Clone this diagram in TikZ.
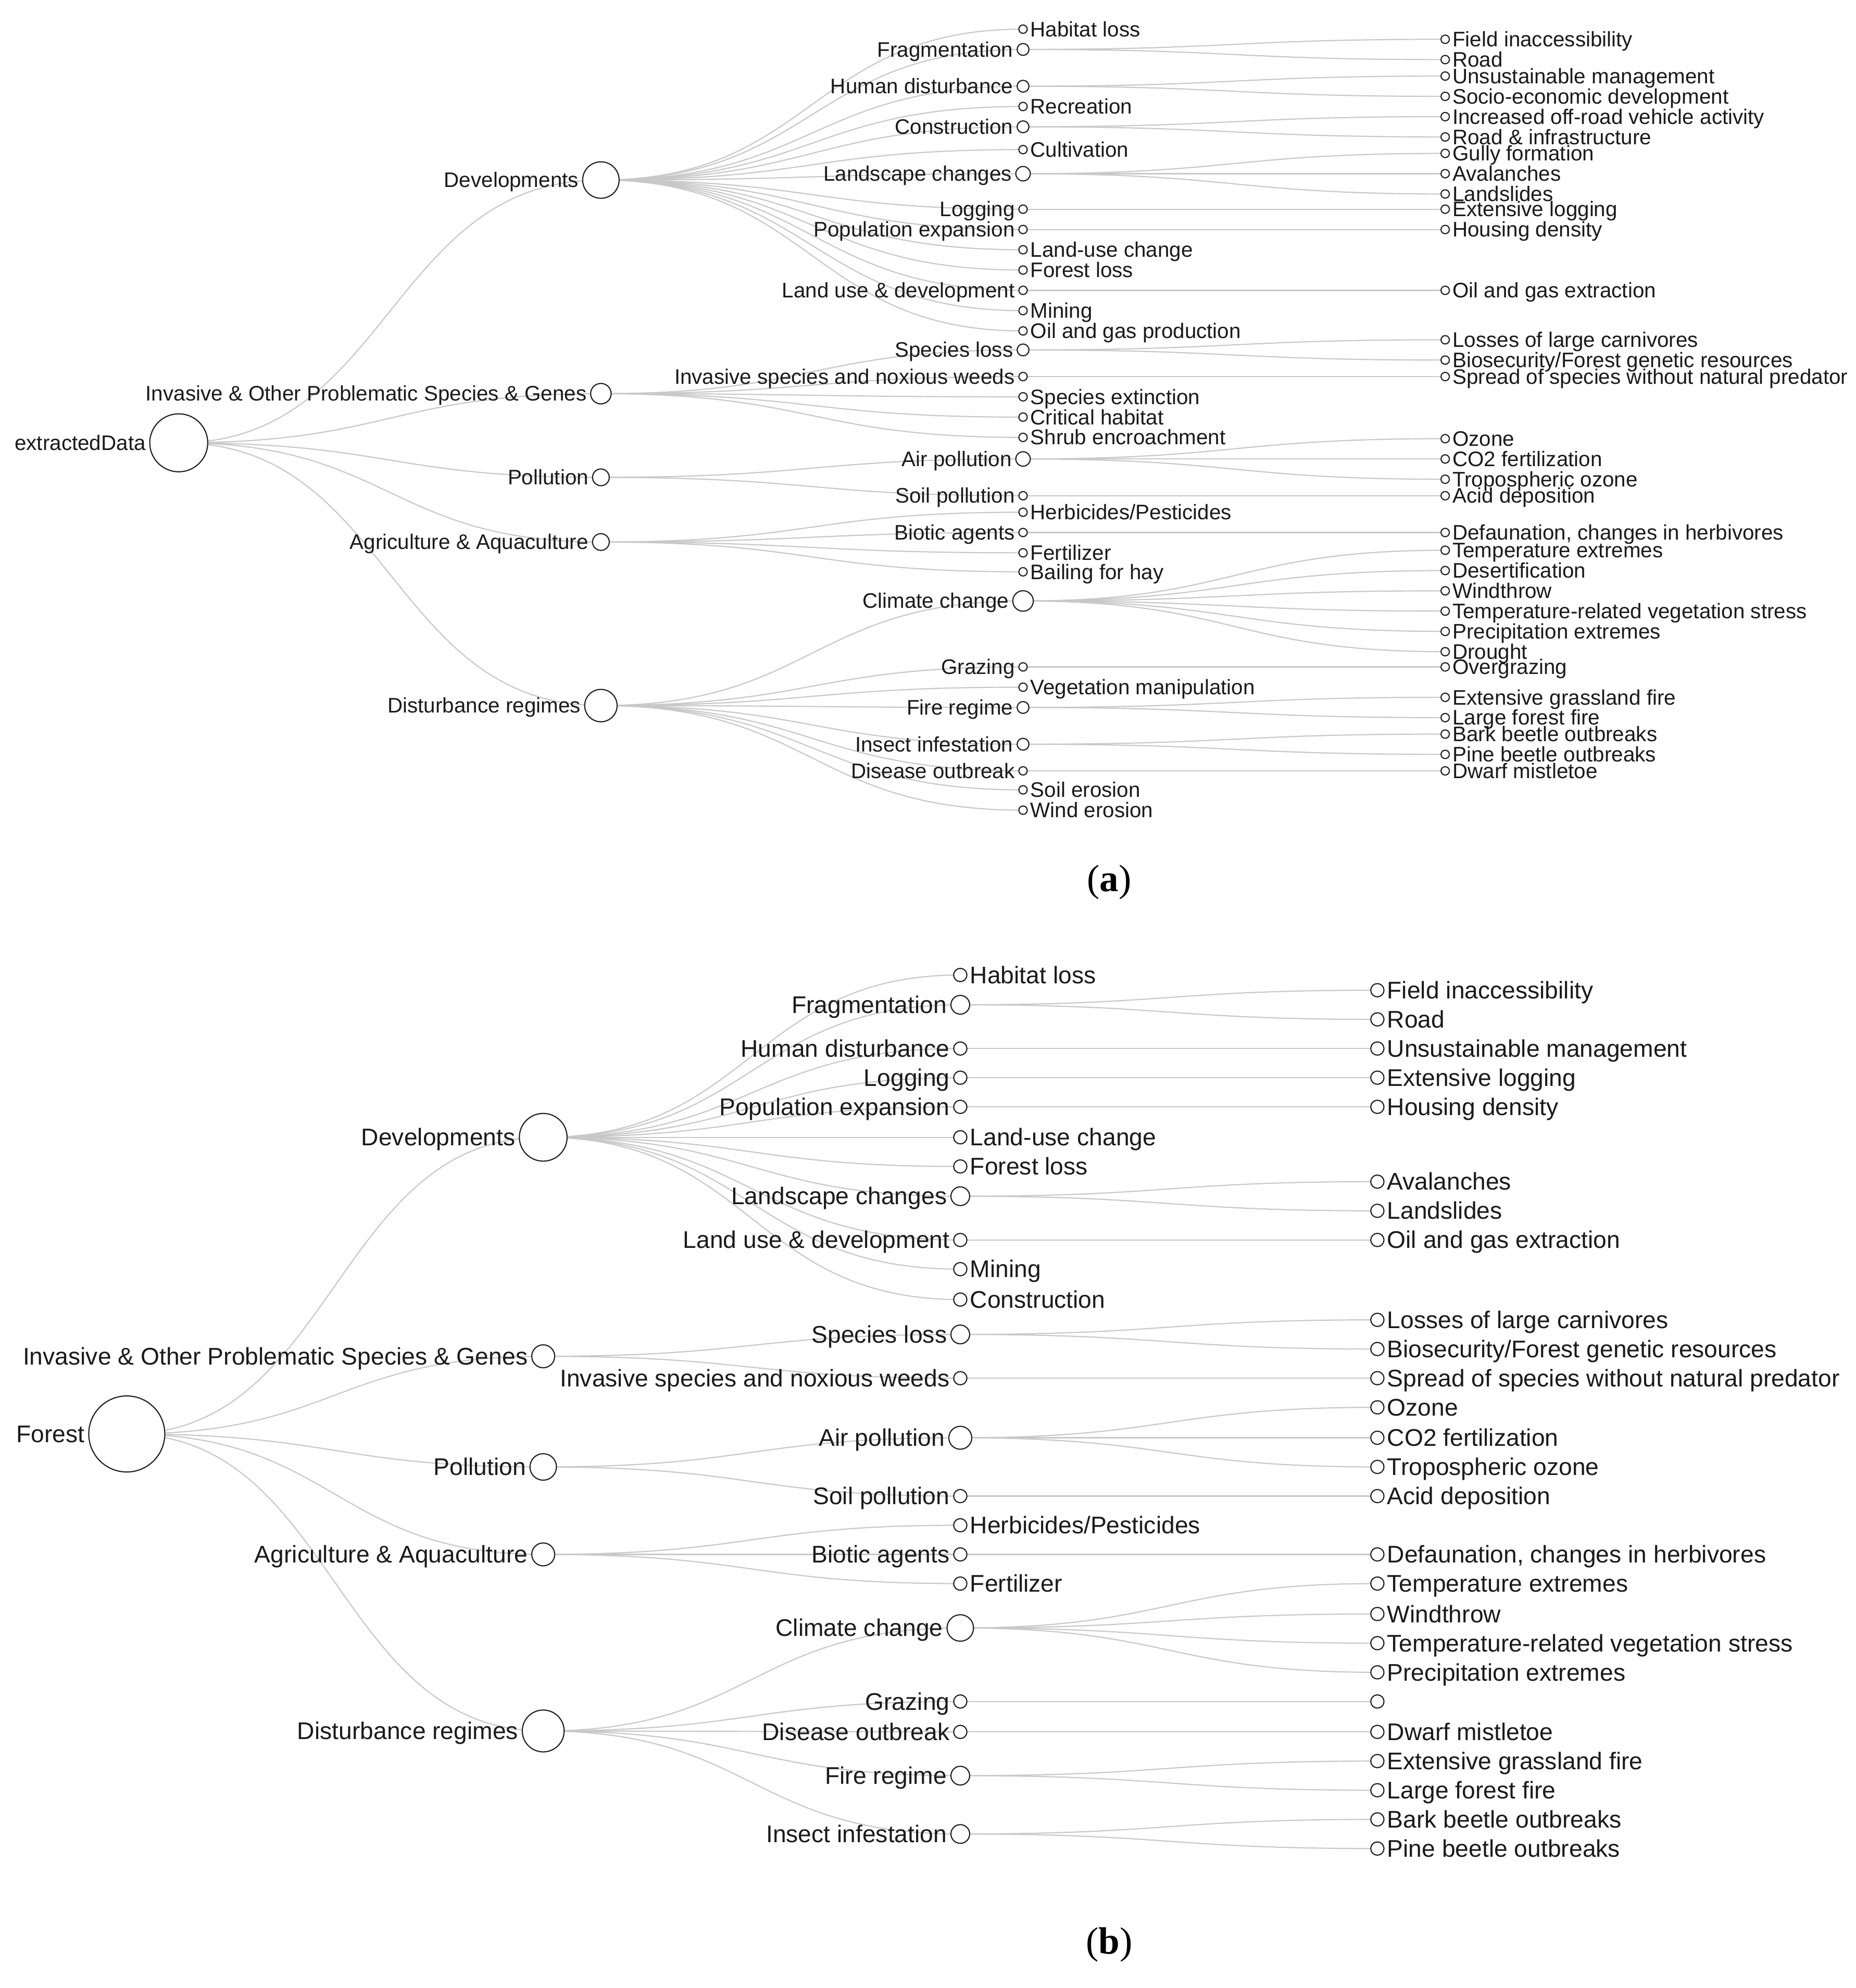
\documentclass[tikz,border=0pt]{standalone}
\usepackage{fontspec}
\setmainfont{Liberation Sans}
\newfontfamily\trCapFont{Liberation Serif}
\usetikzlibrary{backgrounds,calc}
\definecolor{edgec}{HTML}{C8C8C8}
\definecolor{ringc}{HTML}{222222}
\definecolor{txtc}{HTML}{1A1A1A}
\newcommand\trFont{}
\newcommand\trBase{0}
\newcommand\trUnit{1}
\tikzset{
 cnode/.style={circle, draw=ringc, line width=0.9pt, fill=white, inner sep=0pt, outer sep=0pt},
 lbl/.style={inner sep=0pt, outer sep=0pt, text=txtc, font=\trFont},
 link/.style={draw=edgec, line width=0.9pt},
 captxt/.style={font=\trCapFont\fontsize{30}{34}\selectfont, text=black, inner sep=0pt}
}
% internal node: name, x, y, leaf count, text (label on the left)
\newcommand\trInn[5]{%
 \node[cnode, minimum size={2*\trUnit*sqrt(#4)}] (#1) at (#2,#3) {};
 \node[lbl, anchor=base east] (#1-t) at ({#2-\trUnit*sqrt(#4)-3.2},{#3+\trBase}) {#5};}
% leaf node: label on the right
\newcommand\trLeaf[5]{%
 \node[cnode, minimum size={2*\trUnit*sqrt(#4)}] (#1) at (#2,#3) {};
 \node[lbl, anchor=base west] (#1-t) at ({#2+\trUnit*sqrt(#4)+2.5},{#3+\trBase}) {#5};}
\newcommand\trLink[2]{\draw[link] let \p1=(#1.center), \p2=(#2.center) in (\p1) .. controls ({(\x1+\x2)/2},\y1) and ({(\x1+\x2)/2},\y2) .. (\p2);}
\newcommand\trKids[2]{\foreach \cc in {#2} {\trLink{#1}{\cc}}}

\begin{document}
\begin{tikzpicture}[x=1pt,y=-1pt]
\useasboundingbox (0,0) rectangle (1464,1568);

% ---------------- panel (a) ----------------
\renewcommand\trFont{\fontsize{16.6}{18}\selectfont}
\renewcommand\trBase{5.8}
\renewcommand\trUnit{3.3}

\trInn{a}{141}{349.25}{48}{extractedData}
\trInn{aD}{474}{142}{19}{Developments}
\trInn{aI}{474}{310.5}{6}{Invasive \& Other Problematic Species \& Genes}
\trInn{aP}{474}{376.5}{4}{Pollution}
\trInn{aA}{474}{427.5}{4}{Agriculture \& Aquaculture}
\trInn{aR}{474}{556.5}{15}{Disturbance regimes}

\trLeaf{aD1}{807}{23}{1}{Habitat loss}
\trInn{aD2}{807}{39}{2}{Fragmentation}
\trInn{aD3}{807}{68}{2}{Human disturbance}
\trLeaf{aD4}{807}{84}{1}{Recreation}
\trInn{aD5}{807}{100}{2}{Construction}
\trLeaf{aD6}{807}{118}{1}{Cultivation}
\trInn{aD7}{807}{137}{3}{Landscape changes}
\trInn{aD8}{807}{165}{1}{Logging}
\trInn{aD9}{807}{181}{1}{Population expansion}
\trLeaf{aD10}{807}{197}{1}{Land-use change}
\trLeaf{aD11}{807}{213}{1}{Forest loss}
\trInn{aD12}{807}{229}{1}{Land use \& development}
\trLeaf{aD13}{807}{245}{1}{Mining}
\trLeaf{aD14}{807}{261}{1}{Oil and gas production}

\trLeaf{aD2a}{1140}{31}{1}{Field inaccessibility}
\trLeaf{aD2b}{1140}{47}{1}{Road}
\trLeaf{aD3a}{1140}{60}{1}{Unsustainable management}
\trLeaf{aD3b}{1140}{76}{1}{Socio-economic development}
\trLeaf{aD5a}{1140}{92}{1}{Increased off-road vehicle activity}
\trLeaf{aD5b}{1140}{108}{1}{Road \& infrastructure}
\trLeaf{aD7a}{1140}{121}{1}{Gully formation}
\trLeaf{aD7b}{1140}{137}{1}{Avalanches}
\trLeaf{aD7c}{1140}{153}{1}{Landslides}
\trLeaf{aD8a}{1140}{165}{1}{Extensive logging}
\trLeaf{aD9a}{1140}{181}{1}{Housing density}
\trLeaf{aD12a}{1140}{229}{1}{Oil and gas extraction}

\trInn{aI1}{807}{276}{2}{Species loss}
\trInn{aI2}{807}{297}{1}{Invasive species and noxious weeds}
\trLeaf{aI3}{807}{313}{1}{Species extinction}
\trLeaf{aI4}{807}{329}{1}{Critical habitat}
\trLeaf{aI5}{807}{345}{1}{Shrub encroachment}
\trLeaf{aI1a}{1140}{268}{1}{Losses of large carnivores}
\trLeaf{aI1b}{1140}{284}{1}{Biosecurity/Forest genetic resources}
\trLeaf{aI2a}{1140}{297}{1}{Spread of species without natural predator}

\trInn{aP1}{807}{362}{3}{Air pollution}
\trInn{aP2}{807}{391}{1}{Soil pollution}
\trLeaf{aP1a}{1140}{346}{1}{Ozone}
\trLeaf{aP1b}{1140}{362}{1}{CO2 fertilization}
\trLeaf{aP1c}{1140}{378}{1}{Tropospheric ozone}
\trLeaf{aP2a}{1140}{391}{1}{Acid deposition}

\trLeaf{aA1}{807}{404}{1}{Herbicides/Pesticides}
\trInn{aA2}{807}{420}{1}{Biotic agents}
\trLeaf{aA3}{807}{436}{1}{Fertilizer}
\trLeaf{aA4}{807}{451}{1}{Bailing for hay}
\trLeaf{aA2a}{1140}{420}{1}{Defaunation, changes in herbivores}

\trInn{aR1}{807}{474}{6}{Climate change}
\trInn{aR2}{807}{526}{1}{Grazing}
\trLeaf{aR3}{807}{542}{1}{Vegetation manipulation}
\trInn{aR4}{807}{558}{2}{Fire regime}
\trInn{aR5}{807}{587}{2}{Insect infestation}
\trInn{aR6}{807}{608}{1}{Disease outbreak}
\trLeaf{aR7}{807}{623}{1}{Soil erosion}
\trLeaf{aR8}{807}{639}{1}{Wind erosion}
\trLeaf{aR1a}{1140}{434}{1}{Temperature extremes}
\trLeaf{aR1b}{1140}{450}{1}{Desertification}
\trLeaf{aR1c}{1140}{466}{1}{Windthrow}
\trLeaf{aR1d}{1140}{482}{1}{Temperature-related vegetation stress}
\trLeaf{aR1e}{1140}{498}{1}{Precipitation extremes}
\trLeaf{aR1f}{1140}{514}{1}{Drought}
\trLeaf{aR2a}{1140}{526}{1}{Overgrazing}
\trLeaf{aR4a}{1140}{550}{1}{Extensive grassland fire}
\trLeaf{aR4b}{1140}{566}{1}{Large forest fire}
\trLeaf{aR5a}{1140}{579}{1}{Bark beetle outbreaks}
\trLeaf{aR5b}{1140}{595}{1}{Pine beetle outbreaks}
\trLeaf{aR6a}{1140}{608}{1}{Dwarf mistletoe}

\node[captxt] (capa) at (875,696) {(\textbf{a})};

% ---------------- panel (b) ----------------
\renewcommand\trFont{\fontsize{19}{21}\selectfont}
\renewcommand\trBase{6.65}
\renewcommand\trUnit{5.22}

\trInn{b}{100}{1131}{33}{Forest}
\trInn{bD}{428.5}{897}{13}{Developments}
\trInn{bI}{428.5}{1069.75}{3}{Invasive \& Other Problematic Species \& Genes}
\trInn{bP}{428.5}{1157}{4}{Pollution}
\trInn{bA}{428.5}{1226}{3}{Agriculture \& Aquaculture}
\trInn{bR}{428.5}{1365.25}{10}{Disturbance regimes}

\trLeaf{bD1}{757.5}{769}{1}{Habitat loss}
\trInn{bD2}{757.5}{792.5}{2}{Fragmentation}
\trInn{bD3}{757.5}{827}{1}{Human disturbance}
\trInn{bD4}{757.5}{850}{1}{Logging}
\trInn{bD5}{757.5}{873}{1}{Population expansion}
\trLeaf{bD6}{757.5}{897}{1}{Land-use change}
\trLeaf{bD7}{757.5}{920}{1}{Forest loss}
\trInn{bD8}{757.5}{943.5}{2}{Landscape changes}
\trInn{bD9}{757.5}{978}{1}{Land use \& development}
\trLeaf{bD10}{757.5}{1001}{1}{Mining}
\trLeaf{bD11}{757.5}{1025}{1}{Construction}

\trLeaf{bD2a}{1086.5}{781}{1}{Field inaccessibility}
\trLeaf{bD2b}{1086.5}{804}{1}{Road}
\trLeaf{bD3a}{1086.5}{827}{1}{Unsustainable management}
\trLeaf{bD4a}{1086.5}{850}{1}{Extensive logging}
\trLeaf{bD5a}{1086.5}{873}{1}{Housing density}
\trLeaf{bD8a}{1086.5}{932}{1}{Avalanches}
\trLeaf{bD8b}{1086.5}{955}{1}{Landslides}
\trLeaf{bD9a}{1086.5}{978}{1}{Oil and gas extraction}

\trInn{bI1}{757.5}{1052.5}{2}{Species loss}
\trInn{bI2}{757.5}{1087}{1}{Invasive species and noxious weeds}
\trLeaf{bI1a}{1086.5}{1041}{1}{Losses of large carnivores}
\trLeaf{bI1b}{1086.5}{1064}{1}{Biosecurity/Forest genetic resources}
\trLeaf{bI2a}{1086.5}{1087}{1}{Spread of species without natural predator}

\trInn{bP1}{757.5}{1134}{3}{Air pollution}
\trInn{bP2}{757.5}{1180}{1}{Soil pollution}
\trLeaf{bP1a}{1086.5}{1110}{1}{Ozone}
\trLeaf{bP1b}{1086.5}{1134}{1}{CO2 fertilization}
\trLeaf{bP1c}{1086.5}{1157}{1}{Tropospheric ozone}
\trLeaf{bP2a}{1086.5}{1180}{1}{Acid deposition}

\trLeaf{bA1}{757.5}{1203}{1}{Herbicides/Pesticides}
\trInn{bA2}{757.5}{1226}{1}{Biotic agents}
\trLeaf{bA3}{757.5}{1249}{1}{Fertilizer}
\trLeaf{bA2a}{1086.5}{1226}{1}{Defaunation, changes in herbivores}

\trInn{bR1}{757.5}{1284}{4}{Climate change}
\trInn{bR2}{757.5}{1342}{1}{Grazing}
\trInn{bR3}{757.5}{1366}{1}{Disease outbreak}
\trInn{bR4}{757.5}{1400.5}{2}{Fire regime}
\trInn{bR5}{757.5}{1446.5}{2}{Insect infestation}
\trLeaf{bR1a}{1086.5}{1249}{1}{Temperature extremes}
\trLeaf{bR1b}{1086.5}{1273}{1}{Windthrow}
\trLeaf{bR1c}{1086.5}{1296}{1}{Temperature-related vegetation stress}
\trLeaf{bR1d}{1086.5}{1319}{1}{Precipitation extremes}
\node[cnode, minimum size={2*\trUnit}] (bR2a) at (1086.5,1342) {};
\trLeaf{bR3a}{1086.5}{1366}{1}{Dwarf mistletoe}
\trLeaf{bR4a}{1086.5}{1389}{1}{Extensive grassland fire}
\trLeaf{bR4b}{1086.5}{1412}{1}{Large forest fire}
\trLeaf{bR5a}{1086.5}{1435}{1}{Bark beetle outbreaks}
\trLeaf{bR5b}{1086.5}{1458}{1}{Pine beetle outbreaks}

\node[captxt] (capb) at (875,1534) {(\textbf{b})};

% ---------------- connectors ----------------
\begin{pgfonlayer}{background}
\fill[white] (0,0) rectangle (1464,1568);
\trKids{a}{aD,aI,aP,aA,aR}
\trKids{aD}{aD1,aD2,aD3,aD4,aD5,aD6,aD7,aD8,aD9,aD10,aD11,aD12,aD13,aD14}
\trKids{aD2}{aD2a,aD2b}
\trKids{aD3}{aD3a,aD3b}
\trKids{aD5}{aD5a,aD5b}
\trKids{aD7}{aD7a,aD7b,aD7c}
\trKids{aD8}{aD8a}
\trKids{aD9}{aD9a}
\trKids{aD12}{aD12a}
\trKids{aI}{aI1,aI2,aI3,aI4,aI5}
\trKids{aI1}{aI1a,aI1b}
\trKids{aI2}{aI2a}
\trKids{aP}{aP1,aP2}
\trKids{aP1}{aP1a,aP1b,aP1c}
\trKids{aP2}{aP2a}
\trKids{aA}{aA1,aA2,aA3,aA4}
\trKids{aA2}{aA2a}
\trKids{aR}{aR1,aR2,aR3,aR4,aR5,aR6,aR7,aR8}
\trKids{aR1}{aR1a,aR1b,aR1c,aR1d,aR1e,aR1f}
\trKids{aR2}{aR2a}
\trKids{aR4}{aR4a,aR4b}
\trKids{aR5}{aR5a,aR5b}
\trKids{aR6}{aR6a}

\trKids{b}{bD,bI,bP,bA,bR}
\trKids{bD}{bD1,bD2,bD3,bD4,bD5,bD6,bD7,bD8,bD9,bD10,bD11}
\trKids{bD2}{bD2a,bD2b}
\trKids{bD3}{bD3a}
\trKids{bD4}{bD4a}
\trKids{bD5}{bD5a}
\trKids{bD8}{bD8a,bD8b}
\trKids{bD9}{bD9a}
\trKids{bI}{bI1,bI2}
\trKids{bI1}{bI1a,bI1b}
\trKids{bI2}{bI2a}
\trKids{bP}{bP1,bP2}
\trKids{bP1}{bP1a,bP1b,bP1c}
\trKids{bP2}{bP2a}
\trKids{bA}{bA1,bA2,bA3}
\trKids{bA2}{bA2a}
\trKids{bR}{bR1,bR2,bR3,bR4,bR5}
\trKids{bR1}{bR1a,bR1b,bR1c,bR1d}
\trKids{bR2}{bR2a}
\trKids{bR3}{bR3a}
\trKids{bR4}{bR4a,bR4b}
\trKids{bR5}{bR5a,bR5b}
\end{pgfonlayer}
\end{tikzpicture}
\end{document}
